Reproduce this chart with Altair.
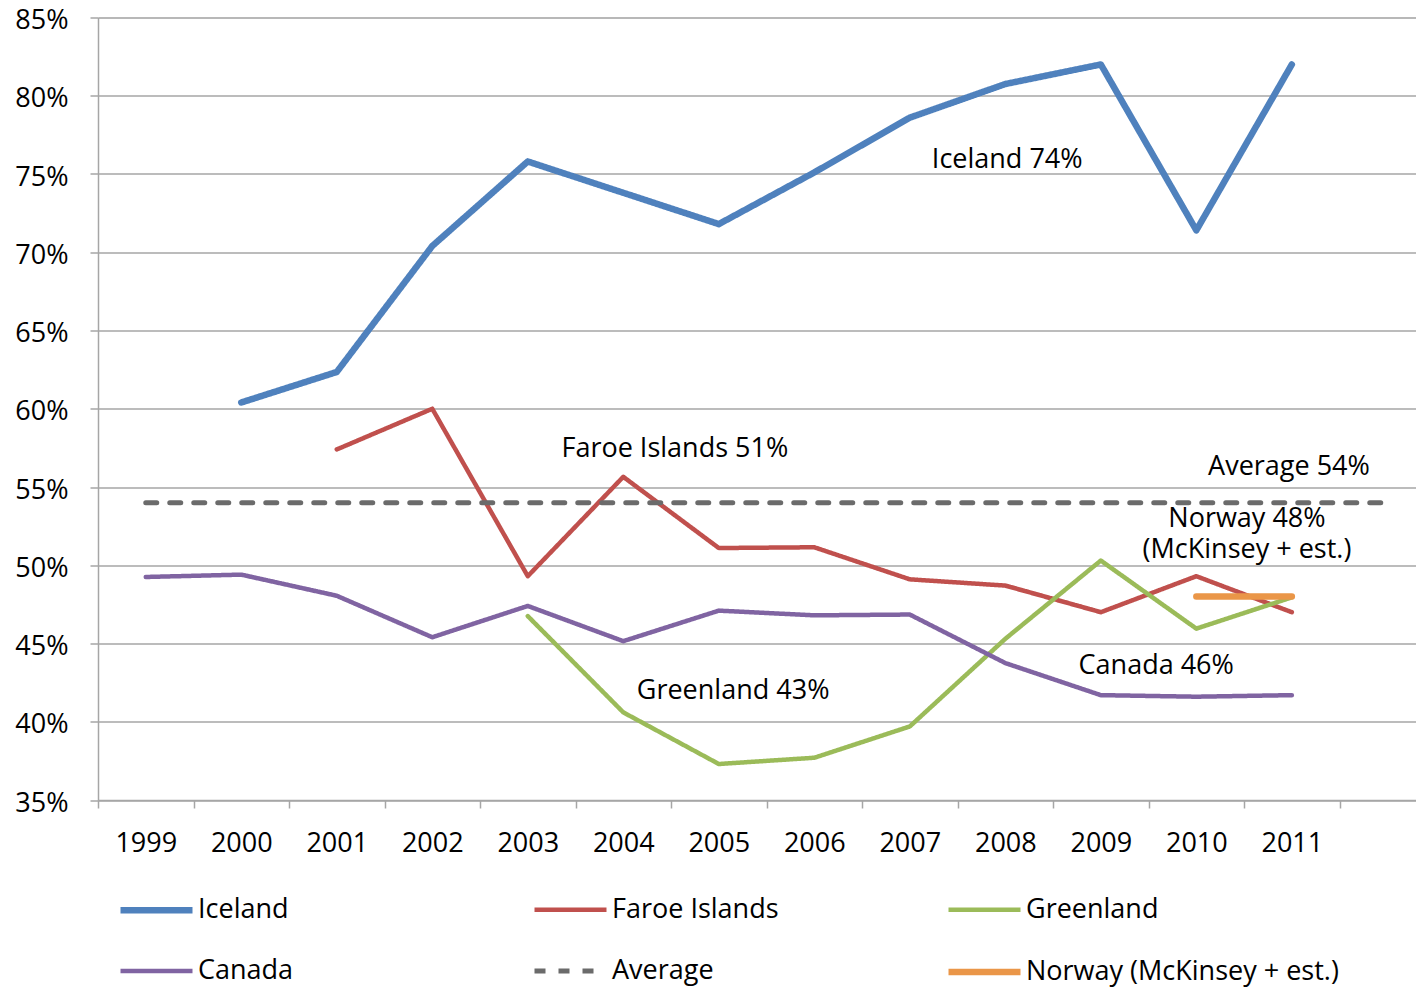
import altair as alt
import pandas as pd

# ---- data ----
series_names = ["Iceland", "Faroe Islands", "Greenland", "Canada", "Average", "Norway (McKinsey + est.)"]
series_colors = ["#4f81bd", "#c0504d", "#9bbb59", "#8064a2", "#6b6b6b", "#ea9648"]
series_widths = [6.5, 4.5, 4.5, 4.5, 5, 6.5]
series_dashes = [[1, 0], [1, 0], [1, 0], [1, 0], [11, 13], [1, 0]]

iceland_years = [2000, 2001, 2002, 2003, 2004, 2005, 2006, 2007, 2008, 2009, 2010, 2011]
iceland_vals = [60.4, 62.35, 70.4, 75.8, 73.8, 71.8, 75.1, 78.6, 80.75, 82.0, 71.4, 82.0]

faroe_years = [2001, 2002, 2003, 2004, 2005, 2006, 2007, 2008, 2009, 2010, 2011]
faroe_vals = [57.4, 60.0, 49.3, 55.65, 51.1, 51.15, 49.1, 48.7, 47.0, 49.3, 47.0]

greenland_years = [2003, 2004, 2005, 2006, 2007, 2008, 2009, 2010, 2011]
greenland_vals = [46.75, 40.6, 37.3, 37.7, 39.7, 45.3, 50.3, 45.95, 47.95]

canada_years = [1999, 2000, 2001, 2002, 2003, 2004, 2005, 2006, 2007, 2008, 2009, 2010, 2011]
canada_vals = [49.25, 49.4, 48.05, 45.4, 47.4, 45.15, 47.1, 46.8, 46.85, 43.75, 41.7, 41.6, 41.7]

average_years = [1999, 2012]
average_vals = [54.0, 54.0]

norway_years = [2010, 2011]
norway_vals = [48.0, 48.0]

annot_labels = ["Iceland 74%", "Faroe Islands 51%", "Average 54%", "Norway 48%",
                "(McKinsey + est.)", "Canada 46%", "Greenland 43%"]
annot_years = [2008.02, 2004.54, 2010.97, 2010.53, 2010.53, 2009.58, 2005.15]
annot_vals = [75.9, 57.4, 56.3, 52.93, 50.95, 43.58, 41.98]

y_ticks = [35, 40, 45, 50, 55, 60, 65, 70, 75, 80, 85]
x_ticks = list(range(1999, 2013))

# ---- build tables ----
rows = []
for name, yrs, vals in [
    ("Iceland", iceland_years, iceland_vals),
    ("Faroe Islands", faroe_years, faroe_vals),
    ("Greenland", greenland_years, greenland_vals),
    ("Canada", canada_years, canada_vals),
    ("Average", average_years, average_vals),
    ("Norway (McKinsey + est.)", norway_years, norway_vals),
]:
    for y, v in zip(yrs, vals):
        rows.append({"series": name, "year": y, "value": v})
df = pd.DataFrame(rows)
annot = pd.DataFrame({"label": annot_labels, "year": annot_years, "value": annot_vals})

FONT = "Open Sans"
GRAY = "#a6a6a6"

x_enc = alt.X(
    "year:Q",
    title=None,
    scale=alt.Scale(domain=[1998.5, 2012.3], nice=False, zero=False),
    axis=alt.Axis(
        values=x_ticks,
        tickOffset=-47.75,
        labelOffset=47.75,
        labelExpr="datum.value > 2011 ? '' : '' + datum.value",
        grid=False,
        tickSize=8,
        tickColor=GRAY,
        tickWidth=1.5,
        domainColor=GRAY,
        domainWidth=1.5,
        labelFontSize=27,
        labelFont=FONT,
        labelColor="black",
        labelPadding=22,
        labelFlush=False,
        labelOverlap=False,
    ),
)
y_enc = alt.Y(
    "value:Q",
    title=None,
    scale=alt.Scale(domain=[35, 85], nice=False, zero=False),
    axis=alt.Axis(
        values=y_ticks,
        labelExpr="datum.value + '%'",
        tickSize=8,
        tickColor=GRAY,
        tickWidth=1.5,
        domainColor=GRAY,
        domainWidth=1.5,
        gridColor=GRAY,
        gridWidth=1.5,
        labelFontSize=27,
        labelFont=FONT,
        labelColor="black",
        labelPadding=22,
        labelOffset=3,
        labelFlush=False,
        labelOverlap=False,
    ),
)

lines = alt.Chart(df).mark_line(strokeCap="round", strokeJoin="round").encode(
    x=x_enc,
    y=y_enc,
    color=alt.Color(
        "series:N",
        scale=alt.Scale(domain=series_names, range=series_colors),
        legend=alt.Legend(
            title=None,
            orient="none",
            legendX=43,
            legendY=877,
            direction="horizontal",
            columns=3,
            symbolType="M-3,0H3",
            symbolSize=576,
            labelFontSize=27,
            labelFont=FONT,
            labelColor="black",
            labelLimit=600,
            labelOffset=26,
            gridAlign="all",
            columnPadding=10,
            rowPadding=33,
            padding=0,
        ),
    ),
    strokeDash=alt.StrokeDash(
        "series:N",
        scale=alt.Scale(domain=series_names, range=series_dashes),
        legend=None,
    ),
    strokeWidth=alt.StrokeWidth(
        "series:N",
        scale=alt.Scale(type="ordinal", domain=series_names, range=series_widths),
        legend=None,
    ),
    detail="series:N",
)

texts = alt.Chart(annot).mark_text(
    font=FONT, fontSize=27, color="black", align="center", baseline="middle"
).encode(x=x_enc, y=y_enc, text="label:N")

chart = (
    alt.layer(lines, texts)
    .properties(
        width=1318,
        height=782.5,
        autosize=alt.AutoSizeParams(type="none"),
        padding={"left": 90, "top": 9.5, "right": 0, "bottom": 187},
    )
    .configure_view(stroke=None, fill="#f2f2f2")
    .configure(font=FONT)
)

chart.save("out.html", embed_options={"renderer": "svg", "actions": False})
